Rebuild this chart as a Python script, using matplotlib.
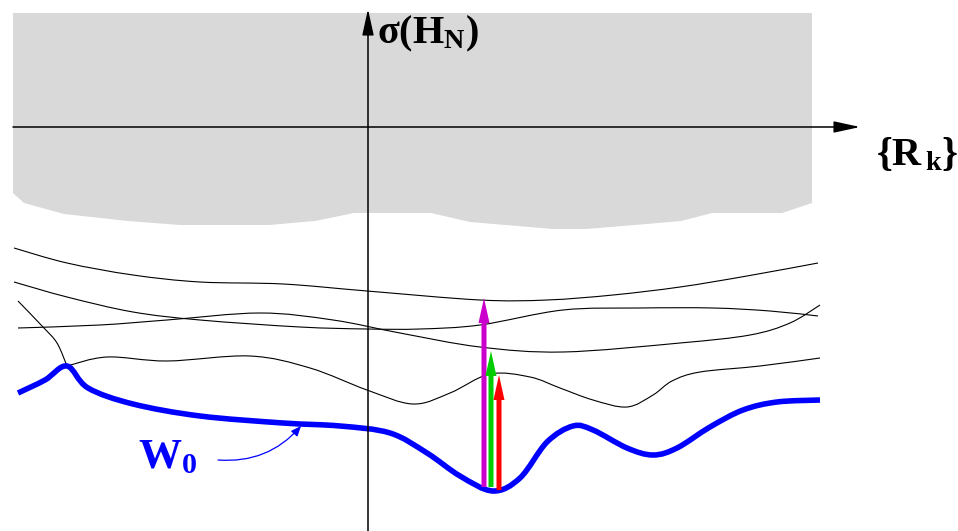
import numpy as np
import matplotlib
matplotlib.use("Agg")
import matplotlib.pyplot as plt
from matplotlib.path import Path
from matplotlib.patches import PathPatch, Polygon, FancyArrow

plt.rcParams['mathtext.fontset'] = 'custom'
plt.rcParams['mathtext.rm'] = 'Liberation Serif:bold'
plt.rcParams['mathtext.bf'] = 'Liberation Serif:bold'
plt.rcParams['mathtext.it'] = 'Liberation Serif:bold'
plt.rcParams['mathtext.default'] = 'rm'

# forbidden region (grey band)
grey_x = [13, 812, 812, 782, 712, 681, 635, 586, 553, 470, 431, 354, 315, 269, 180, 128, 64, 24, 13]
grey_y = [13, 13, 203, 213, 213, 221, 225, 229, 229, 222, 213, 213, 221, 225, 225, 221, 214, 203, 193]

# thin level curves
c1_x = [14, 67, 133, 200, 283, 367, 480, 547, 613, 680, 747, 818]
c1_y = [248, 263, 275, 282, 284, 291, 300, 300, 295, 287, 276, 263]

c2_x = [14, 67, 133, 200, 300, 367, 420, 480, 563, 640, 713, 770, 818]
c2_y = [282, 297, 312, 320, 327, 329, 329, 325, 310, 308, 308, 311, 316]

c3_x = [18, 100, 167, 260, 333, 400, 480, 563, 680, 750, 790, 820]
c3_y = [328, 325, 320, 313, 320, 333, 347, 352, 343, 335, 323, 305]

c4_x = [18, 43, 57, 67]
c4_y = [301, 327, 343, 366]

c5_x = [67, 107, 167, 250, 310, 367, 413, 450, 490, 530, 560, 593, 627, 653, 672, 700, 760, 820]
c5_y = [366, 357, 361, 356, 368, 390, 404, 393, 374, 377, 388, 400, 407, 395, 381, 372, 366, 358]

# W0 curve
w0_x = [18, 45, 67, 88, 133, 200, 283, 340, 390, 427, 460, 493, 520, 547, 573, 593, 627, 653, 677, 710, 743, 777, 820]
w0_y = [393, 380, 366, 388, 404, 416, 423, 426, 433, 453, 476, 491, 478, 442, 426, 430, 448, 455, 448, 427, 410, 402, 400]

# vertical arrows
arr_x = [484, 491, 499]
arr_base = [487, 487, 490]
arr_tip = [298, 351, 375]
arr_colors = ['#cc00cc', '#00cc00', '#ff0000']


def smooth_path(xs, ys):
    p = np.column_stack([xs, ys]).astype(float)
    n = len(p)
    verts = [p[0]]
    codes = [Path.MOVETO]
    for i in range(n - 1):
        p0 = p[i - 1] if i > 0 else p[i]
        p1 = p[i]
        p2 = p[i + 1]
        p3 = p[i + 2] if i + 2 < n else p[i + 1]
        verts += [p1 + (p2 - p0) / 6, p2 - (p3 - p1) / 6, p2]
        codes += [Path.CURVE4] * 3
    return Path(verts, codes)


fig = plt.figure(figsize=(9.58, 5.31), dpi=100)
ax = fig.add_axes([0, 0, 1, 1])
ax.set_xlim(0, 958)
ax.set_ylim(531, 0)
ax.axis('off')

ax.add_patch(Polygon(np.column_stack([grey_x, grey_y]), closed=True,
                     facecolor='#d9d9d9', edgecolor='none', zorder=0))

for xs, ys in [(c1_x, c1_y), (c2_x, c2_y), (c3_x, c3_y), (c4_x, c4_y), (c5_x, c5_y)]:
    ax.add_patch(PathPatch(smooth_path(xs, ys), facecolor='none',
                           edgecolor='black', lw=0.8, zorder=2))

ax.add_patch(PathPatch(smooth_path(w0_x, w0_y), facecolor='none',
                       edgecolor='#0000ff', lw=4, capstyle='butt', zorder=3))

# axes
ax.annotate('', xy=(860, 127), xytext=(13, 127),
            arrowprops=dict(arrowstyle='-|>,head_length=1.6,head_width=0.35',
                            color='black', lw=1.1, shrinkA=0, shrinkB=0), zorder=4)
ax.annotate('', xy=(368, 9), xytext=(368, 531),
            arrowprops=dict(arrowstyle='-|>,head_length=1.6,head_width=0.35',
                            color='black', lw=1.1, shrinkA=0, shrinkB=0), zorder=4)

ax.text(377, 34, r'$\sigma(\mathrm{H}_\mathrm{N})$', fontsize=29, va='center', ha='left', zorder=5)
ax.text(876, 154, r'$\{\mathrm{R}_{\,\mathrm{k}}\}$', fontsize=29, va='center', ha='left', zorder=5)

for x, b, t, c in zip(arr_x, arr_base, arr_tip, arr_colors):
    ax.add_patch(FancyArrow(x, b, 0, t - b, width=5, head_width=11, head_length=25,
                            length_includes_head=True, color=c, lw=0, zorder=6))

# W0 label with pointer
ax.text(138, 468, r'$\mathrm{W}_\mathrm{0}$', fontsize=31, color='#0000ff',
        va='baseline', ha='left', zorder=5)
ax.annotate('', xy=(301, 426), xytext=(218, 460),
            arrowprops=dict(arrowstyle='-|>,head_length=0.6,head_width=0.25',
                            color='#0000ff', lw=0.9, shrinkA=0, shrinkB=0,
                            connectionstyle='arc3,rad=0.25'), zorder=5)

fig.savefig('out.png', dpi=100)
